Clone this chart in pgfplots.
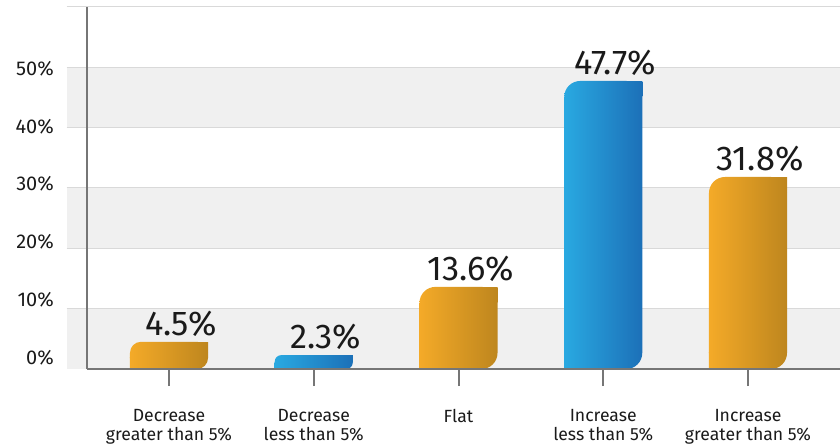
\documentclass[border=0pt]{standalone}
\usepackage{pgfplots}
\pgfplotsset{compat=1.18}
\usepackage{fontspec}
\setmainfont{Fira Sans}
\definecolor{oL}{HTML}{F4AA28}
\definecolor{oR}{HTML}{BE861E}
\definecolor{bL}{HTML}{29A9E1}
\definecolor{bR}{HTML}{1C70B8}
\definecolor{band}{HTML}{F0F0F0}
\definecolor{gridc}{HTML}{D9D9D9}
\definecolor{axc}{HTML}{767676}
\definecolor{txt}{HTML}{1A1A1A}
\begin{document}
\begin{tikzpicture}
\useasboundingbox (-87.3bp,-75bp) rectangle (752.7bp,369bp);
\begin{axis}[
  scale only axis, width=752.7bp, height=362.3bp,
  xmin=-0.5644, xmax=4.6356, ymin=0, ymax=60,
  clip=false, axis on top,
  axis x line=bottom, axis y line=left,
  x axis line style={draw=axc, line width=1.5bp, -},
  y axis line style={draw=axc, line width=2bp, -},
  xtick={0,1,2,3,4},
  xticklabels={{Decrease\\greater than 5\%},{Decrease\\less than 5\%},{Flat},{Increase\\less than 5\%},{Increase\\greater than 5\%}},
  ytick={1.82,11.43,21.03,30.64,40.08,49.68},
  yticklabels={0\%,10\%,20\%,30\%,40\%,50\%},
  tick align=outside, major tick length=17bp,
  xtick style={draw=axc, line width=2bp},
  ytick style={draw=none},
  xticklabel style={align=center, font=\fontsize{17.7}{18.5}\selectfont, text=txt, yshift=-20bp},
  yticklabel style={font=\fontsize{20}{24}\selectfont, text=txt},
  yticklabel shift=13bp,
  /pgf/number format/assume math mode=true,
  every node near coord/.append style={font=\fontsize{34.5}{40}\selectfont, text=txt, xshift=12bp, anchor=base, inner sep=0pt, yshift=6.5bp},
]
% background bands and grid lines
\fill[band] (axis cs:-0.7067,0) rectangle (axis cs:4.6356,10);
\fill[band] (axis cs:-0.7067,20) rectangle (axis cs:4.6356,30);
\fill[band] (axis cs:-0.7067,40) rectangle (axis cs:4.6356,50);
\draw[gridc, line width=1bp] (axis cs:-0.7067,10) -- (axis cs:4.6356,10);
\draw[gridc, line width=1bp] (axis cs:-0.7067,20) -- (axis cs:4.6356,20);
\draw[gridc, line width=1bp] (axis cs:-0.7067,30) -- (axis cs:4.6356,30);
\draw[gridc, line width=1bp] (axis cs:-0.7067,40) -- (axis cs:4.6356,40);
\draw[gridc, line width=1bp] (axis cs:-0.7067,50) -- (axis cs:4.6356,50);
\draw[gridc, line width=1bp] (axis cs:-0.7067,60) -- (axis cs:4.6356,60);

% Bar 1
\addplot[ybar, bar width=0.539, bar shift=0pt, draw=none, left color=oL, right color=oR, rounded corners=11bp,
  nodes near coords={\pgfmathprintnumber[fixed,precision=1,fixed zerofill]{\pgfplotspointmeta}\%}]
  coordinates {(0,4.5)};
\addplot[draw=none, left color=oR!85.9!oL, right color=oR] coordinates {(0.1935,2.678) (0.2695,2.678) (0.2695,4.46) (0.1935,4.46)} -- cycle;
\addplot[draw=none, left color=oL, right color=oR!14.1!oL] coordinates {(-0.2695,0) (-0.1935,0) (-0.1935,1.822) (-0.2695,1.822)} -- cycle;

% Bar 2
\addplot[ybar, bar width=0.539, bar shift=0pt, draw=none, left color=bL, right color=bR, rounded corners=6.5bp,
  nodes near coords={\pgfmathprintnumber[fixed,precision=1,fixed zerofill]{\pgfplotspointmeta}\%}]
  coordinates {(1,2.3)};
\addplot[draw=none, left color=bR!91.7!bL, right color=bR] coordinates {(1.2246,1.224) (1.2695,1.224) (1.2695,2.26) (1.2246,2.26)} -- cycle;
\addplot[draw=none, left color=bL, right color=bR!8.3!bL] coordinates {(0.7305,0) (0.7754,0) (0.7754,1.076) (0.7305,1.076)} -- cycle;

% Bar 3
\addplot[ybar, bar width=0.539, bar shift=0pt, draw=none, left color=oL, right color=oR, rounded corners=16bp,
  nodes near coords={\pgfmathprintnumber[fixed,precision=1,fixed zerofill]{\pgfplotspointmeta}\%}]
  coordinates {(2,13.6)};
\addplot[draw=none, left color=oR!79.5!oL, right color=oR] coordinates {(2.159,10.95) (2.2695,10.95) (2.2695,13.56) (2.159,13.56)} -- cycle;
\addplot[draw=none, left color=oL, right color=oR!20.5!oL] coordinates {(1.7305,0) (1.841,0) (1.841,2.65) (1.7305,2.65)} -- cycle;

% Bar 4
\addplot[ybar, bar width=0.539, bar shift=0pt, draw=none, left color=bL, right color=bR, rounded corners=16bp,
  nodes near coords={\pgfmathprintnumber[fixed,precision=1,fixed zerofill]{\pgfplotspointmeta}\%}]
  coordinates {(3,47.7)};
\addplot[draw=none, left color=bR!79.5!bL, right color=bR] coordinates {(3.159,45.05) (3.2695,45.05) (3.2695,47.66) (3.159,47.66)} -- cycle;
\addplot[draw=none, left color=bL, right color=bR!20.5!bL] coordinates {(2.7305,0) (2.841,0) (2.841,2.65) (2.7305,2.65)} -- cycle;

% Bar 5
\addplot[ybar, bar width=0.539, bar shift=0pt, draw=none, left color=oL, right color=oR, rounded corners=16bp,
  nodes near coords={\pgfmathprintnumber[fixed,precision=1,fixed zerofill]{\pgfplotspointmeta}\%}]
  coordinates {(4,31.8)};
\addplot[draw=none, left color=oR!79.5!oL, right color=oR] coordinates {(4.159,29.15) (4.2695,29.15) (4.2695,31.76) (4.159,31.76)} -- cycle;
\addplot[draw=none, left color=oL, right color=oR!20.5!oL] coordinates {(3.7305,0) (3.841,0) (3.841,2.65) (3.7305,2.65)} -- cycle;
\end{axis}
\end{tikzpicture}
\end{document}
